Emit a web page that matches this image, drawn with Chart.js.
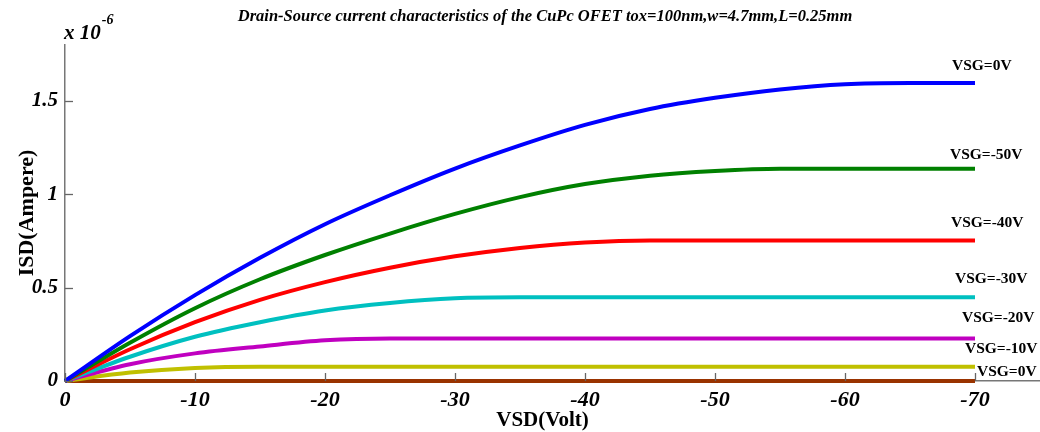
<!DOCTYPE html>
<html>
<head>
<meta charset="utf-8">
<script src="https://cdn.jsdelivr.net/npm/chart.js@4"></script>
<style>
  html, body { margin: 0; padding: 0; background: #fff; }
  #wrap { width: 1040px; height: 432px; position: relative; }
</style>
</head>
<body>
<div id="wrap"><canvas id="ofetChart" width="1040" height="432"></canvas></div>
<script>
// drain-source voltage (V)
const vsd = [0, -5, -10, -15, -20, -25, -30, -35, -40, -45, -50, -55, -60, -65, -70];
// drain-source current, units of 1e-6 A
const isdA = [0, 0.24, 0.46, 0.66, 0.84, 0.995, 1.138, 1.262, 1.372, 1.457, 1.517, 1.562, 1.59, 1.596, 1.596];
const isdB = [0, 0.205, 0.39, 0.545, 0.675, 0.79, 0.895, 0.985, 1.055, 1.10, 1.125, 1.137, 1.137, 1.137, 1.137];
const isdC = [0, 0.17, 0.315, 0.435, 0.53, 0.607, 0.668, 0.713, 0.742, 0.753, 0.753, 0.753, 0.753, 0.753, 0.753];
const isdD = [0, 0.13, 0.237, 0.315, 0.378, 0.418, 0.443, 0.448, 0.448, 0.448, 0.448, 0.448, 0.448, 0.448, 0.448];
const isdE = [0, 0.09, 0.148, 0.185, 0.218, 0.228, 0.228, 0.228, 0.228, 0.228, 0.228, 0.228, 0.228, 0.228, 0.228];
const isdF = [0, 0.045, 0.07, 0.077, 0.077, 0.077, 0.077, 0.077, 0.077, 0.077, 0.077, 0.077, 0.077, 0.077, 0.077];
const isdG = [0, 0, 0, 0, 0, 0, 0, 0, 0, 0, 0, 0, 0, 0, 0];
const seriesLabels = ['VSG=0V', 'VSG=-50V', 'VSG=-40V', 'VSG=-30V', 'VSG=-20V', 'VSG=-10V', 'VSG=0V'];
const xTicks = [0, -10, -20, -30, -40, -50, -60, -70];
const yTicks = [0, 0.5, 1, 1.5];

const serif = '"Liberation Serif", "Times New Roman", serif';
const colors = ['#0000ff', '#008000', '#ff0000', '#00c0c0', '#c000c0', '#c0c000', '#993300'];
// where each curve's label sits relative to its end point
const labelDx = [-23, -25, -24, -20, -13, -10, 2];
const labelDy = [-17, -14, -17, -18, -20, -18, -9];

const allSeries = [isdA, isdB, isdC, isdD, isdE, isdF, isdG];

const decorPlugin = {
    id: 'decor',
    afterDatasetsDraw(chart) {
        const ctx = chart.ctx;
        const area = chart.chartArea;
        const xs = chart.scales.x, ys = chart.scales.y;
        ctx.save();
        // inward tick marks
        ctx.strokeStyle = '#666';
        ctx.lineWidth = 1.3;
        xTicks.forEach(v => {
            const px = Math.round(xs.getPixelForValue(v)) + 0.5;
            ctx.beginPath(); ctx.moveTo(px, area.bottom); ctx.lineTo(px, area.bottom - 8); ctx.stroke();
        });
        yTicks.forEach(v => {
            const py = Math.round(ys.getPixelForValue(v)) + 0.5;
            ctx.beginPath(); ctx.moveTo(area.left, py); ctx.lineTo(area.left + 8, py); ctx.stroke();
        });
        // curve labels
        ctx.fillStyle = '#000';
        ctx.font = 'bold 15.5px ' + serif;
        ctx.textAlign = 'left';
        ctx.textBaseline = 'middle';
        chart.data.datasets.forEach((ds, i) => {
            const pts = chart.getDatasetMeta(i).data;
            const p = pts[pts.length - 1];
            ctx.fillText(seriesLabels[i], p.x + labelDx[i], p.y + labelDy[i]);
        });
        // title
        ctx.textAlign = 'center';
        ctx.font = 'italic bold 16.5px ' + serif;
        ctx.fillText('Drain-Source current characteristics of the CuPc OFET tox=100nm,w=4.7mm,L=0.25mm', 545, 17);
        // axis titles
        ctx.font = 'bold 21px ' + serif;
        ctx.fillText('VSD(Volt)', (area.left + area.right) / 2 - 10, 421);
        ctx.save();
        ctx.translate(27, (area.top + area.bottom) / 2);
        ctx.rotate(-Math.PI / 2);
        ctx.font = 'bold 22px ' + serif;
        ctx.fillText('ISD(Ampere)', 0, 0);
        ctx.restore();
        // exponent
        ctx.textAlign = 'left';
        ctx.textBaseline = 'alphabetic';
        ctx.font = 'italic bold 21px ' + serif;
        ctx.fillText('x 10', 64, 39);
        const w = ctx.measureText('x 10').width;
        ctx.font = 'italic bold 14px ' + serif;
        ctx.fillText('-6', 64 + w + 1, 24);
        ctx.restore();
    }
};

new Chart(document.getElementById('ofetChart').getContext('2d'), {
    type: 'line',
    data: {
        labels: vsd,
        datasets: allSeries.map((s, i) => ({
            label: seriesLabels[i],
            data: vsd.map((v, k) => ({ x: v, y: s[k] })),
            borderColor: colors[i],
            backgroundColor: colors[i],
            borderWidth: 4,
            pointRadius: 0,
            cubicInterpolationMode: 'monotone',
            clip: false
        }))
    },
    options: {
        responsive: false,
        animation: false,
        layout: { padding: { top: 45, right: 0, bottom: 0, left: 0 } },
        plugins: {
            legend: { display: false },
            tooltip: { enabled: false },
            title: { display: false }
        },
        scales: {
            x: {
                type: 'linear',
                min: -75,
                max: 0,
                reverse: true,
                afterBuildTicks: (s) => { s.ticks = xTicks.map(v => ({ value: v })); },
                afterFit: (s) => { s.height = 51; },
                grid: { display: false, drawTicks: false },
                border: { display: true, color: '#777', width: 1.5 },
                ticks: {
                    padding: 6,
                    color: '#000',
                    font: { family: serif, size: 22, weight: 'bold', style: 'italic' },
                    maxRotation: 0,
                    callback: (v) => String(v)
                }
            },
            y: {
                min: 0,
                max: 1.8,
                afterBuildTicks: (s) => { s.ticks = yTicks.map(v => ({ value: v })); },
                afterFit: (s) => { s.width = 65; },
                grid: { display: false, drawTicks: false },
                border: { display: true, color: '#777', width: 1.5 },
                ticks: {
                    padding: 7,
                    color: '#000',
                    font: { family: serif, size: 21, weight: 'bold', style: 'italic' },
                    callback: (v) => String(v)
                }
            }
        }
    },
    plugins: [decorPlugin]
});
</script>
</body>
</html>
